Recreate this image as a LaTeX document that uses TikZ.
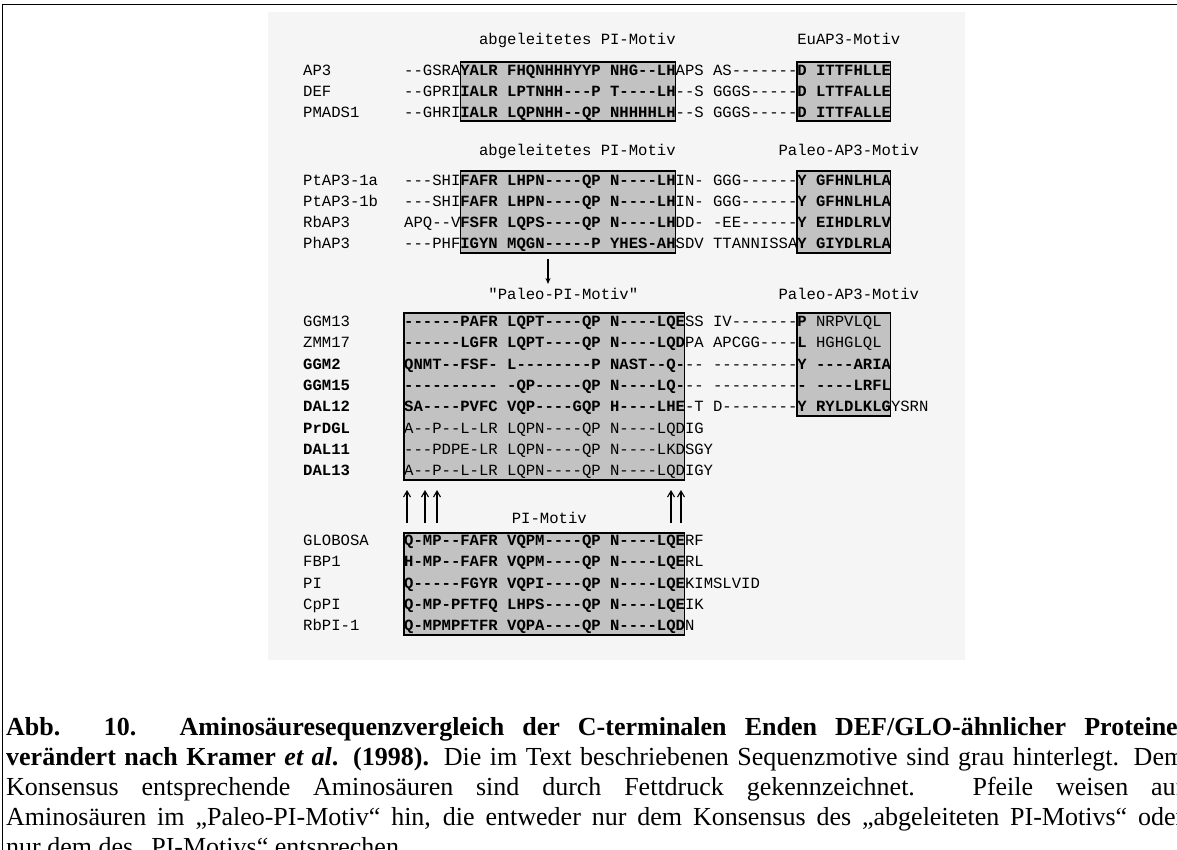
\documentclass[tikz,border=0pt]{standalone}
\usepackage{fontspec}
\setmainfont{Liberation Serif}
\setmonofont{Liberation Mono}
\usetikzlibrary{arrows.meta}
\newcommand\cw{9.36}
\begin{document}
\begin{tikzpicture}[x=1pt,y=-1pt,
  seq/.style={anchor=base west, inner sep=0pt, font=\ttfamily\fontsize{15.6}{18}\selectfont},
  motif/.style={draw=black, line width=1.3pt, fill=black!24},
  uparr/.style={-{Straight Barb[length=6pt,width=7pt]}, line width=1.1pt},
  downarr/.style={-{Stealth[length=6pt,width=5pt]}, line width=1.1pt},
  captxt/.style={anchor=base west, inner sep=0pt, font=\fontsize{26}{30}\selectfont},
  frm/.style={line width=1.8pt}]
\useasboundingbox (0,0) rectangle (1177,850);
% scan background
\fill[black!4] (268,12) rectangle (965,660);
% frame
\draw[frm] (2.5,850) -- (2.5,4.5) -- (1177,4.5);

% ---------- Block 1 ----------
\node[seq] (h1a) at ({404+8*\cw},44.5) {abgeleitetes PI-Motiv};
\node[seq] (h1b) at ({404+42*\cw},44.5) {EuAP3-Motiv};
\draw[motif] ({404+6*\cw},62) rectangle ({404+29*\cw},121);
\draw[motif] ({404+42*\cw},62) rectangle ({404+52*\cw},121);
\node[seq] (l-ap3) at (303,75.5) {AP3};
\node[seq] (l-def) at (303,96.5) {DEF};
\node[seq] (l-pm1) at (303,117.5) {PMADS1};
\node[seq] (s-ap3) at (404,75.5) {--GSRA\textbf{YALR FHQNHHHYYP NHG--LH}APS AS-------\textbf{D ITTFHLLE}};
\node[seq] (s-def) at (404,96.5) {--GPRI\textbf{IALR LPTNHH---P T----LH}--S GGGS-----\textbf{D LTTFALLE}};
\node[seq] (s-pm1) at (404,117.5) {--GHRI\textbf{IALR LQPNHH--QP NHHHHLH}--S GGGS-----\textbf{D ITTFALLE}};

% ---------- Block 2 ----------
\node[seq] (h2a) at ({404+8*\cw},156) {abgeleitetes PI-Motiv};
\node[seq] (h2b) at ({404+40*\cw},156) {Paleo-AP3-Motiv};
\draw[motif] ({404+6*\cw},171) rectangle ({404+29*\cw},253);
\draw[motif] ({404+42*\cw},171) rectangle ({404+52*\cw},253);
\node[seq] (l-pt1a) at (303,185.5) {PtAP3-1a};
\node[seq] (l-pt1b) at (303,206.5) {PtAP3-1b};
\node[seq] (l-rb3) at (303,227.5) {RbAP3};
\node[seq] (l-ph3) at (303,248.5) {PhAP3};
\node[seq] (s-pt1a) at (404,185.5) {---SHI\textbf{FAFR LHPN----QP N----LH}IN- GGG------\textbf{Y GFHNLHLA}};
\node[seq] (s-pt1b) at (404,206.5) {---SHI\textbf{FAFR LHPN----QP N----LH}IN- GGG------\textbf{Y GFHNLHLA}};
\node[seq] (s-rb3) at (404,227.5) {APQ--V\textbf{FSFR LQPS----QP N----LH}DD- -EE------\textbf{Y EIHDLRLV}};
\node[seq] (s-ph3) at (404,248.5) {---PHF\textbf{IGYN MQGN-----P YHES-AH}SDV TTANNISSA\textbf{Y GIYDLRLA}};

% down arrow
\coordinate (d1) at (548,259);
\coordinate (d2) at (548,284);
\draw[downarr] (d1) -- (d2);

% ---------- Block 3 ----------
\node[seq] (h3a) at ({404+9*\cw},299) {"Paleo-PI-Motiv"};
\node[seq] (h3b) at ({404+40*\cw},299) {Paleo-AP3-Motiv};
\draw[motif] (404,313) rectangle ({404+30*\cw},480);
\draw[motif] ({404+42*\cw},313) rectangle ({404+52*\cw},416);
\node[seq] (l-g13) at (303,326.5) {GGM13};
\node[seq] (l-z17) at (303,347.8) {ZMM17};
\node[seq] (l-g2) at (303,369.1) {\textbf{GGM2}};
\node[seq] (l-g15) at (303,390.4) {\textbf{GGM15}};
\node[seq] (l-d12) at (303,411.7) {\textbf{DAL12}};
\node[seq] (l-pr) at (303,433) {\textbf{PrDGL}};
\node[seq] (l-d11) at (303,454.3) {\textbf{DAL11}};
\node[seq] (l-d13) at (303,475.6) {\textbf{DAL13}};
\node[seq] (s-g13) at (404,326.5) {\textbf{------PAFR LQPT----QP N----LQE}SS IV-------\textbf{P} NRPVLQL};
\node[seq] (s-z17) at (404,347.8) {\textbf{------LGFR LQPT----QP N----LQD}PA APCGG----\textbf{L} HGHGLQL};
\node[seq] (s-g2) at (404,369.1) {\textbf{QNMT--FSF- L--------P NAST--Q-}-- ---------\textbf{Y ----ARIA}};
\node[seq] (s-g15) at (404,390.4) {\textbf{---------- -QP-----QP N----LQ-}-- ---------\textbf{- ----LRFL}};
\node[seq] (s-d12) at (404,411.7) {\textbf{SA----PVFC VQP----GQP H----LHE}-T D--------\textbf{Y RYLDLKLG}YSRN};
\node[seq] (s-pr) at (404,433) {A--P--L-LR LQPN----QP N----LQDIG};
\node[seq] (s-d11) at (404,454.3) {---PDPE-LR LQPN----QP N----LKDSGY};
\node[seq] (s-d13) at (404,475.6) {A--P--L-LR LQPN----QP N----LQDIGY};

% up arrows
\foreach \n/\xx in {a/407,b/425,c/437,d/671,e/681}{
  \coordinate (u\n1) at (\xx,523);
  \coordinate (u\n2) at (\xx,490);
  \draw[uparr] (u\n1) -- (u\n2);
}

% ---------- Block 4 ----------
\node[seq] (h4) at ({404+11.5*\cw},523) {PI-Motiv};
\draw[motif] (404,533) rectangle ({404+30*\cw},635);
\node[seq] (l-glo) at (303,545.5) {GLOBOSA};
\node[seq] (l-fbp) at (303,566.8) {FBP1};
\node[seq] (l-pi) at (303,588.1) {PI};
\node[seq] (l-cp) at (303,609.4) {CpPI};
\node[seq] (l-rbp) at (303,630.7) {RbPI-1};
\node[seq] (s-glo) at (404,545.5) {\textbf{Q-MP--FAFR VQPM----QP N----LQE}RF};
\node[seq] (s-fbp) at (404,566.8) {\textbf{H-MP--FAFR VQPM----QP N----LQE}RL};
\node[seq] (s-pi) at (404,588.1) {\textbf{Q-----FGYR VQPI----QP N----LQE}KIMSLVID};
\node[seq] (s-cp) at (404,609.4) {\textbf{Q-MP-PFTFQ LHPS----QP N----LQE}IK};
\node[seq] (s-rbp) at (404,630.7) {\textbf{Q-MPMPFTFR VQPA----QP N----LQD}N};

% ---------- Caption ----------
\node[captxt] (c1) at (6,735) {\makebox[1178pt][s]{\bfseries Abb. 10. Aminosäuresequenzvergleich der C-terminalen Enden DEF/GLO-ähnlicher Proteine,}};
\node[captxt] (c2) at (6,765) {\makebox[1178pt][s]{\textbf{verändert nach Kramer \textit{et al}. (1998).} Die im Text beschriebenen Sequenzmotive sind grau hinterlegt. Dem}};
\node[captxt] (c3) at (6,795) {\makebox[1178pt][s]{Konsensus entsprechende Aminosäuren sind durch Fettdruck gekennzeichnet. Pfeile weisen auf}};
\node[captxt] (c4) at (6,825) {\makebox[1178pt][s]{Aminosäuren im „Paleo-PI-Motiv“ hin, die entweder nur dem Konsensus des „abgeleiteten PI-Motivs“ oder}};
\node[captxt] (c5) at (6,855) {nur dem des „PI-Motivs“ entsprechen.};
\end{tikzpicture}
\end{document}
